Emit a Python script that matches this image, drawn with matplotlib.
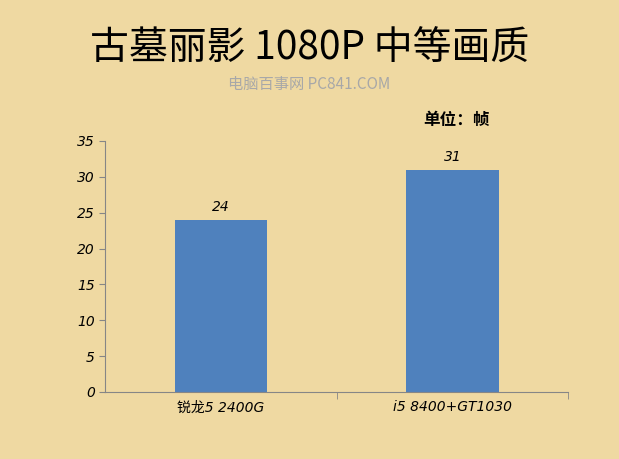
import matplotlib
matplotlib.use("Agg")
import matplotlib.pyplot as plt

plt.rcParams['font.family'] = ['Noto Sans CJK SC', 'DejaVu Sans']
ital = ['DejaVu Sans', 'Noto Sans CJK SC']

categories = ['锐龙5 2400G', 'i5 8400+GT1030']
values = [24, 31]
yticks = [0, 5, 10, 15, 20, 25, 30, 35]

bg = '#EFD9A2'
fig = plt.figure(figsize=(6.19, 4.59), dpi=100, facecolor=bg)
ax = fig.add_axes([0.170, 0.146, 0.748, 0.547])
ax.set_facecolor(bg)
x = range(len(categories))
ax.bar(x, values, width=0.4, color='#4F81BD')
for xi, v in zip(x, values):
    ax.text(xi, v + 0.8, str(v), ha='center', va='bottom', fontsize=10,
            style='italic', family=ital)
ax.set_xlim(-0.5, 1.5)
ax.set_ylim(0, 35)
ax.set_yticks(yticks)
ax.set_yticklabels([str(t) for t in yticks], style='italic', family=ital, fontsize=10)
ax.set_xticks(list(x))
ax.set_xticklabels(categories, style='italic', family=ital, fontsize=10)
ax.tick_params(axis='y', length=4, color='#868686')
ax.tick_params(axis='x', length=0, pad=6)
for s in ['top', 'right']:
    ax.spines[s].set_visible(False)
for s in ['left', 'bottom']:
    ax.spines[s].set_color('#868686')
ax.set_xticks([0.5, 1.5], minor=True)
ax.tick_params(axis='x', which='minor', length=5, color='#868686')

fig.text(0.5, 0.893, '古墓丽影 1080P 中等画质', ha='center', va='center', fontsize=28)
fig.text(0.5, 0.817, '电脑百事网 PC841.COM', ha='center', va='center', fontsize=11, color='#A8A8A8')
fig.text(0.738, 0.738, '单位：帧', ha='center', va='center', fontsize=12, fontweight='bold')

fig.savefig('out.png', dpi=100, facecolor=bg)
